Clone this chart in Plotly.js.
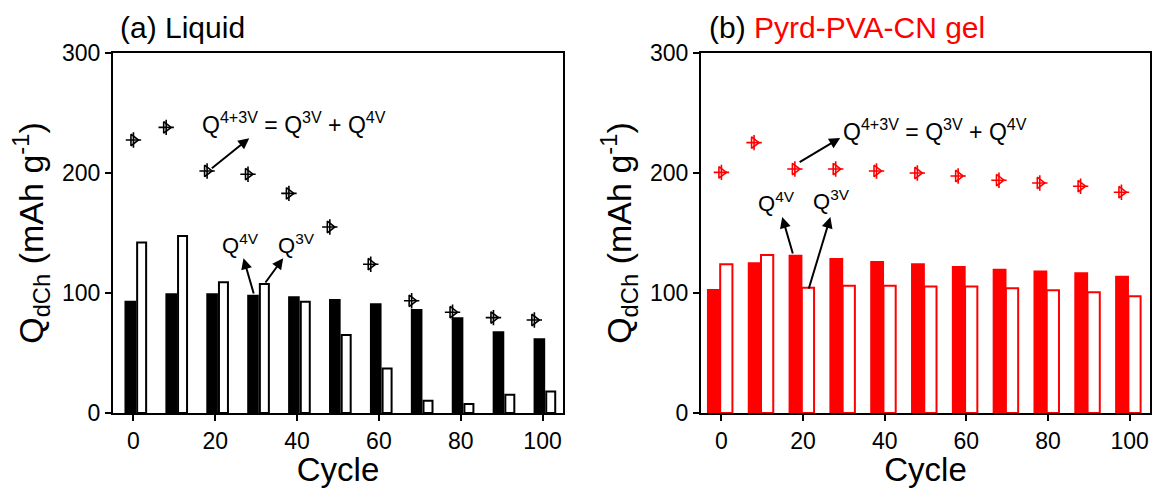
<!DOCTYPE html>
<html>
<head>
<meta charset="utf-8">
<script src="https://cdn.plot.ly/plotly-3.0.1.min.js"></script>
<style>html,body{margin:0;padding:0;background:#fff}#chart{width:1155px;height:488px}</style>
</head>
<body>
<div id="chart"></div>
<script>
// Data
const cycles = [0, 10, 20, 30, 40, 50, 60, 70, 80, 90, 100];
const totalCycles = [0, 8, 18, 28, 38, 48, 58, 68, 78, 88, 98];

const liquidQ4V = [92.8, 98.9, 98.9, 97.8, 96.4, 94.2, 90.6, 85.8, 78.9, 67.3, 61.4];
const liquidQ3V = [142, 147.5, 109, 107.5, 92.8, 65, 37, 10.3, 7.5, 15.3, 18];
const liquidTotal = [227.5, 238, 201.7, 199, 183, 155, 124, 93.5, 84, 79.5, 77.5];

const gelQ4V = [102.5, 124.7, 131, 128.3, 125.8, 123.9, 121.7, 119.4, 118, 116.4, 113.6];
const gelQ3V = [124, 131.7, 104.4, 106, 106, 105.5, 105.5, 103.9, 102.2, 100.6, 97.2];
const gelTotal = [200.5, 225.3, 203.3, 203.3, 201.7, 200, 197.5, 194, 191.7, 189, 184];

const xTicks = [0, 20, 40, 60, 80, 100];
const yTicks = [0, 100, 200, 300];

const RED = '#ff0000';
const FONT = 'Liberation Sans, Arial, Helvetica, sans-serif';

function bars(x, y, xa, ya, fill, line, offset, width) {
  return {type: 'bar', x: x, y: y, xaxis: xa, yaxis: ya, offset: offset, width: width,
    marker: {color: fill, line: {color: line, width: 2}}, showlegend: false, hoverinfo: 'x+y'};
}
function markers(x, y, xa, ya, color) {
  return [
    {type: 'scatter', mode: 'markers', x: x, y: y, xaxis: xa, yaxis: ya, showlegend: false,
      marker: {symbol: 'triangle-right-open', size: 10, color: color, line: {color: color, width: 1.6}}},
    {type: 'scatter', mode: 'markers', x: x, y: y, xaxis: xa, yaxis: ya, showlegend: false, hoverinfo: 'skip',
      marker: {symbol: 'cross-thin-open', size: 11, color: color, line: {color: color, width: 1.6}}}
  ];
}

const data = [
  bars(cycles, liquidQ4V, 'x', 'y', '#000000', '#000000', -1.95, 2.35),
  bars(cycles, liquidQ3V, 'x', 'y', '#ffffff', '#000000', 0.9, 2.2),
  ...markers(totalCycles, liquidTotal, 'x', 'y', '#000000'),
  bars(cycles, gelQ4V, 'x2', 'y2', RED, RED, -3.3, 2.9),
  bars(cycles, gelQ3V, 'x2', 'y2', '#ffffff', RED, -0.3, 3.0),
  ...markers(totalCycles, gelTotal, 'x2', 'y2', RED)
];

const W = 1155, H = 488;
const yDom = [1 - 413 / H, 1 - 53 / H];

function xAxis(domain, anchor) {
  return {domain: domain, anchor: anchor, range: [-5, 105], tickvals: xTicks, ticks: 'outside',
    ticklen: 6, tickwidth: 2, tickcolor: '#000', showline: true, linewidth: 2, linecolor: '#000',
    mirror: true, showgrid: false, zeroline: false,
    tickfont: {family: FONT, size: 23, color: '#000'},
    title: {text: 'Cycle', font: {family: FONT, size: 33, color: '#000'}, standoff: 6}};
}
function yAxis(anchor) {
  return {domain: yDom, anchor: anchor, range: [0, 300], tickvals: yTicks, ticks: 'outside',
    ticklen: 6, tickwidth: 2, tickcolor: '#000', showline: true, linewidth: 2, linecolor: '#000',
    mirror: true, showgrid: false, zeroline: false,
    tickfont: {family: FONT, size: 23, color: '#000'},
    title: {text: 'Q<sub>dCh</sub> (mAh g<sup>-1</sup>)', font: {family: FONT, size: 34, color: '#000'}, standoff: 8}};
}

function arrow(xr, yr, tx, ty, hx, hy) {
  return {xref: xr, yref: yr, axref: xr, ayref: yr, x: hx, y: hy, ax: tx, ay: ty, text: '',
    showarrow: true, arrowhead: 2, arrowsize: 1.1, arrowwidth: 2, arrowcolor: '#000'};
}
function label(xr, yr, x, y, txt, size) {
  return {xref: xr, yref: yr, x: x, y: y, text: txt, showarrow: false, xanchor: 'center', yanchor: 'middle',
    font: {family: FONT, size: size, color: '#000'}};
}

const eq = 'Q<sup>4+3V</sup> = Q<sup>3V</sup> + Q<sup>4V</sup>';

const layout = {
  width: W, height: H,
  margin: {l: 0, r: 0, t: 0, b: 0},
  paper_bgcolor: '#fff', plot_bgcolor: '#fff',
  barmode: 'overlay',
  font: {family: FONT, color: '#000'},
  xaxis: xAxis([113 / W, 563 / W], 'y'),
  yaxis: yAxis('x'),
  xaxis2: xAxis([701 / W, 1150 / W], 'y2'),
  yaxis2: yAxis('x2'),
  annotations: [
    {xref: 'paper', yref: 'paper', x: 118 / W, y: 1 - 28 / H, xanchor: 'left', yanchor: 'middle',
      text: '(a) Liquid', showarrow: false, font: {family: FONT, size: 30, color: '#000'}},
    {xref: 'paper', yref: 'paper', x: 707 / W, y: 1 - 28 / H, xanchor: 'left', yanchor: 'middle',
      text: '(b) <span style="color:#ff0000">Pyrd-PVA-CN gel</span>', showarrow: false,
      font: {family: FONT, size: 30, color: '#000'}},
    label('x', 'y', 39.3, 242, eq, 23),
    arrow('x', 'y', 18.8, 203, 28.3, 229),
    label('x', 'y', 26.1, 141, 'Q<sup>4V</sup>', 22),
    label('x', 'y', 39.8, 141, 'Q<sup>3V</sup>', 22),
    arrow('x', 'y', 29.5, 98.3, 26.9, 129),
    arrow('x', 'y', 32, 107.5, 36.6, 129),
    label('x2', 'y2', 52.3, 236, eq, 23),
    arrow('x2', 'y2', 18.8, 208.3, 29.1, 229.2),
    label('x2', 'y2', 13.4, 176, 'Q<sup>4V</sup>', 22),
    label('x2', 'y2', 26.9, 177.5, 'Q<sup>3V</sup>', 22),
    arrow('x2', 'y2', 17.6, 131.7, 14.9, 163.3),
    arrow('x2', 'y2', 21.3, 102.5, 26.7, 163.3)
  ]
};

Plotly.newPlot('chart', data, layout, {displayModeBar: false, staticPlot: true});
</script>
</body>
</html>
